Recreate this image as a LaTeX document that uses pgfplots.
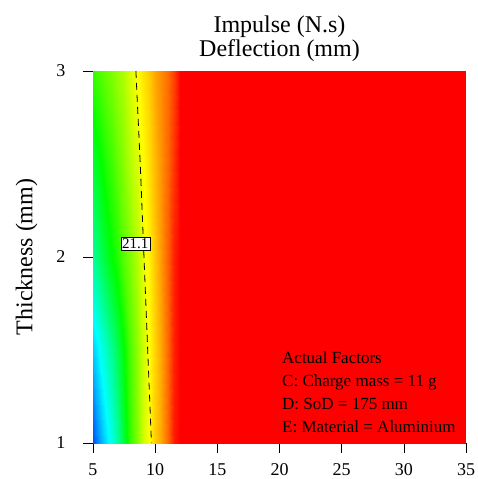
\documentclass[border=0pt]{standalone}
\usepackage{fontspec}
\setmainfont{Liberation Serif}
\usepackage{pgfplots}
\pgfplotsset{compat=1.18}
\usepackage{pgfplotstable}

% colour field: meta value per grid point (0 = blue ... 5 = red)
\pgfplotstableread{
x    y    m
5    1    0.3
5.5  1    0.6
6    1    0.85
6.5  1    1.1
7    1    1.4
7.5  1    1.8
8    1    2.2
8.5  1    2.5
9    1    2.8
9.5  1    3.0
10   1    3.4
10.5 1    3.7
11   1    4.2
11.5 1    4.8
12   1    5
35   1    5
5    1.5  0.8
5.5  1.5  1.0
6    1.5  1.2
6.5  1.5  1.45
7    1.5  1.7
7.5  1.5  2.0
8    1.5  2.3
8.5  1.5  2.55
9    1.5  2.8
9.5  1.5  3.0
10   1.5  3.35
10.5 1.5  3.7
11   1.5  4.2
11.5 1.5  4.75
12   1.5  5
35   1.5  5
5    2    1.4
5.5  2    1.6
6    2    1.8
6.5  2    2.0
7    2    2.15
7.5  2    2.35
8    2    2.5
8.5  2    2.7
9    2    2.9
9.5  2    3.1
10   2    3.45
10.5 2    3.8
11   2    4.25
11.5 2    4.75
12   2    5
35   2    5
5    2.5  1.8
5.5  2.5  1.95
6    2.5  2.1
6.5  2.5  2.25
7    2.5  2.4
7.5  2.5  2.55
8    2.5  2.7
8.5  2.5  2.85
9    2.5  3.0
9.5  2.5  3.25
10   2.5  3.55
10.5 2.5  3.85
11   2.5  4.2
11.5 2.5  4.6
12   2.5  5
35   2.5  5
5    3    2.2
5.5  3    2.3
6    3    2.4
6.5  3    2.5
7    3    2.6
7.5  3    2.7
8    3    2.85
8.5  3    3.0
9    3    3.2
9.5  3    3.4
10   3    3.7
10.5 3    3.9
11   3    4.15
11.5 3    4.5
12   3    5
35   3    5
}\field

\pgfplotsset{colormap={rsm}{rgb255=(0,0,255) rgb255=(0,255,255) rgb255=(0,255,0)
  rgb255=(255,255,0) rgb255=(255,128,0) rgb255=(255,0,0)}}

\begin{document}
\begin{tikzpicture}
\path[use as bounding box] (-93pt,-36pt) rectangle (385pt,443pt);
\begin{axis}[
    scale only axis,
    width=373pt, height=372pt,
    xmin=5, xmax=35,
    ymin=1, ymax=3,
    xtick={5,10,...,35},
    ytick={1,2,3},
    axis lines=left,
    axis line style={-},
    tick align=outside,
    major tick length=10pt,
    tick style={black, thin},
    /pgf/number format/assume math mode=true,
    tick label style={font=\fontsize{18}{18}\selectfont},
    xticklabel style={yshift=-7pt},
    yticklabel style={xshift=-14pt},
    title={Impulse (N.s)\\Deflection (mm)},
    title style={align=center, font=\fontsize{24}{24}\selectfont},
    ylabel={Thickness (mm)},
    ylabel style={font=\fontsize{24}{24}\selectfont, yshift=12pt},
    point meta min=0, point meta max=5,
    clip=true,
]

\addplot[surf, shader=interp, mesh/cols=16, point meta=explicit]
    table[x=x, y=y, meta=m] {\field};

% contour 21.1
\addplot[black, thick, dash pattern=on 7pt off 5pt]
    coordinates {(8.45,3) (8.8,2.5) (9.1,2.0) (9.4,1.5) (9.7,1)};

\node[draw=black, very thin, fill=white, inner sep=1.5pt,
      font=\fontsize{15}{15}\selectfont] at (axis cs:8.4,2.07) {21.1};

\node[anchor=north west, align=left, inner sep=0pt,
      font=\fontsize{17}{23}\selectfont] at (axis cs:20.2,1.49)
    {Actual Factors\\C: Charge mass = 11 g\\D: SoD = 175 mm\\E: Material = Aluminium};

\end{axis}
\end{tikzpicture}
\end{document}
